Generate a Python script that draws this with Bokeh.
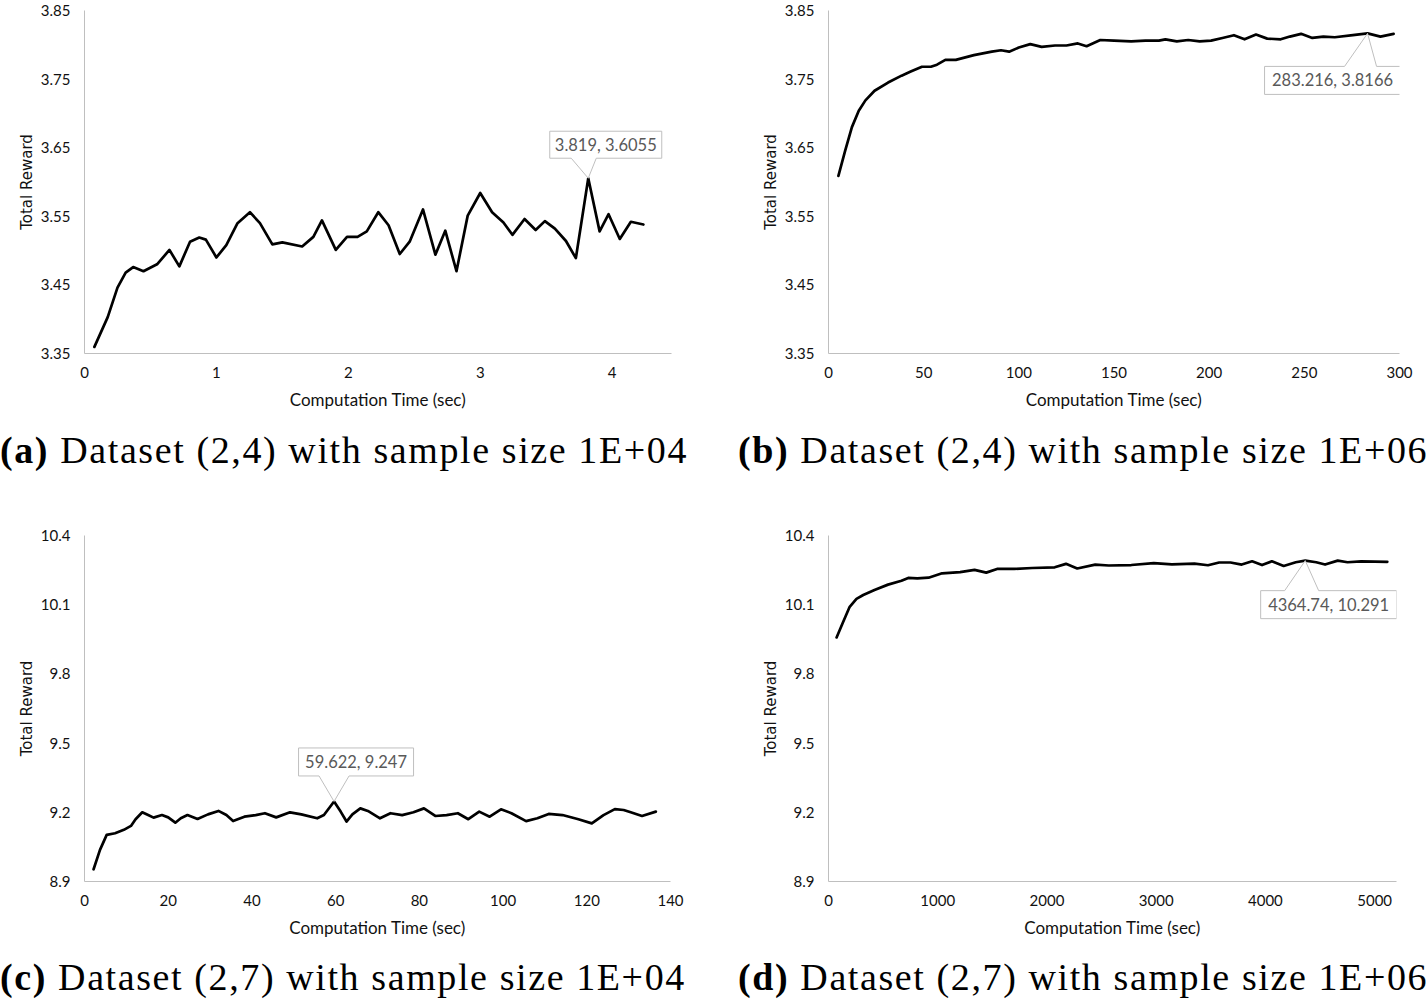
from bokeh.plotting import figure
from bokeh.layouts import column, row
from bokeh.models import FixedTicker, Div, Range1d
from bokeh.core.properties import value
from bokeh.embed import file_html
from bokeh.resources import INLINE

# ---------------- data ----------------
# (a) Dataset (2,4), sample size 1E+04
a_time = [0.075, 0.176, 0.25, 0.312, 0.369, 0.447, 0.55, 0.644, 0.719, 0.80, 0.87, 0.92, 1.0,
          1.075, 1.16, 1.254, 1.33, 1.424, 1.5, 1.65, 1.735, 1.80, 1.905, 1.99, 2.07, 2.14,
          2.227, 2.305, 2.39, 2.465, 2.566, 2.66, 2.735, 2.82, 2.905, 3.0, 3.09, 3.176,
          3.244, 3.336, 3.42, 3.49, 3.566, 3.65, 3.725, 3.819, 3.905, 3.973, 4.058, 4.142, 4.237]
a_reward = [3.3596, 3.403, 3.446, 3.468, 3.476, 3.470, 3.480, 3.501, 3.477, 3.513, 3.519, 3.516, 3.490,
            3.508, 3.540, 3.556, 3.540, 3.509, 3.512, 3.506, 3.520, 3.544, 3.501, 3.520, 3.520, 3.528,
            3.556, 3.537, 3.495, 3.513, 3.560, 3.494, 3.529, 3.470, 3.551, 3.584, 3.556, 3.541,
            3.523, 3.546, 3.530, 3.543, 3.532, 3.514, 3.489, 3.6055, 3.528, 3.553, 3.517, 3.542, 3.538]

# (b) Dataset (2,4), sample size 1E+06
b_time = [5.2, 8.8, 12.3, 15.9, 19.4, 24.2, 31.3, 38.4, 43.2, 49.1, 53.8, 57.0, 61.4, 66.9, 76.4,
          85.8, 90.6, 94.9, 100.0, 106.0, 112.0, 119.0, 125.0, 131.0, 135.6, 142.8, 150.0, 159.0,
          166.5, 173.6, 177.0, 183.0, 189.0, 195.0, 201.0, 207.0, 213.0, 218.6, 224.6, 230.5,
          237.6, 242.4, 248.3, 254.2, 260.0, 266.0, 275.5, 283.216, 290.0, 296.9]
b_reward = [3.609, 3.646, 3.680, 3.704, 3.719, 3.733, 3.745, 3.755, 3.761, 3.768, 3.768, 3.771, 3.778,
            3.778, 3.785, 3.790, 3.792, 3.790, 3.796, 3.801, 3.797, 3.799, 3.799, 3.802, 3.798, 3.807,
            3.806, 3.805, 3.806, 3.806, 3.808, 3.805, 3.807, 3.805, 3.806, 3.810, 3.814, 3.808, 3.815,
            3.809, 3.808, 3.812, 3.816, 3.810, 3.812, 3.811, 3.814, 3.8166, 3.812, 3.816]

# (c) Dataset (2,7), sample size 1E+04
c_time = [2.17, 3.7, 5.3, 7.3, 9.4, 11.1, 12.2, 13.8, 15.2, 16.5, 18.5, 20.0, 21.7, 23.0, 24.6, 27.0,
          29.5, 32.0, 33.9, 35.5, 38.2, 40.9, 43.1, 45.8, 49.1, 51.8, 55.6, 57.2, 59.622, 61.2, 62.6,
          64.0, 65.9, 67.7, 70.6, 73.1, 75.9, 78.6, 81.1, 83.8, 86.5, 89.2, 91.7, 94.3, 96.8, 99.5,
          102.0, 105.5, 108.2, 110.9, 114.2, 118.0, 121.2, 124.0, 126.7, 128.8, 130.5, 133.2, 136.5]
c_reward = [8.953, 9.037, 9.102, 9.109, 9.124, 9.141, 9.170, 9.200, 9.188, 9.177, 9.188, 9.178, 9.155,
            9.174, 9.188, 9.171, 9.191, 9.206, 9.188, 9.162, 9.181, 9.188, 9.196, 9.178, 9.200, 9.191,
            9.174, 9.188, 9.247, 9.203, 9.160, 9.191, 9.217, 9.206, 9.174, 9.196, 9.188, 9.200, 9.217,
            9.184, 9.188, 9.196, 9.170, 9.203, 9.181, 9.213, 9.196, 9.162, 9.174, 9.193, 9.188, 9.170,
            9.152, 9.188, 9.214, 9.210, 9.200, 9.184, 9.203]

# (d) Dataset (2,7), sample size 1E+06
d_time = [74, 132, 194, 256, 318, 421, 545, 668, 730, 813, 916, 1040, 1205, 1337, 1444, 1543, 1700,
          1865, 2071, 2174, 2277, 2442, 2566, 2772, 2978, 3144, 3350, 3474, 3577, 3680, 3783, 3878,
          3969, 4059, 4167, 4278, 4364.74, 4465, 4546, 4662, 4752, 4876, 5000, 5116]
d_reward = [9.958, 10.023, 10.091, 10.125, 10.142, 10.164, 10.187, 10.204, 10.216, 10.214, 10.217,
            10.236, 10.241, 10.251, 10.239, 10.255, 10.255, 10.259, 10.262, 10.277, 10.257, 10.274,
            10.270, 10.272, 10.280, 10.275, 10.278, 10.271, 10.283, 10.283, 10.274, 10.288, 10.272,
            10.288, 10.268, 10.284, 10.291, 10.284, 10.274, 10.291, 10.284, 10.288, 10.287, 10.286]

# callout points and texts
a_callout = (3.819, 3.6055, "3.819, 3.6055")
b_callout = (283.216, 3.8166, "283.216, 3.8166")
c_callout = (59.622, 9.247, "59.622, 9.247")
d_callout = (4364.74, 10.291, "4364.74, 10.291")

# ticks
a_xticks = [0, 1, 2, 3, 4]
b_xticks = [0, 50, 100, 150, 200, 250, 300]
c_xticks = [0, 20, 40, 60, 80, 100, 120, 140]
d_xticks = [0, 1000, 2000, 3000, 4000, 5000]
ab_yticks = [3.35, 3.45, 3.55, 3.65, 3.75, 3.85]
ab_ylabels = ["3.35", "3.45", "3.55", "3.65", "3.75", "3.85"]
cd_yticks = [8.9, 9.2, 9.5, 9.8, 10.1, 10.4]
cd_ylabels = ["8.9", "9.2", "9.5", "9.8", "10.1", "10.4"]

captions = [
    ("(a)", "Dataset (2,4) with sample size 1E+04"),
    ("(b)", "Dataset (2,4) with sample size 1E+06"),
    ("(c)", "Dataset (2,7) with sample size 1E+04"),
    ("(d)", "Dataset (2,7) with sample size 1E+06"),
]

X_TITLE = "Computation Time (sec)"
Y_TITLE = "Total Reward"
GRAY = "#BFBFBF"


def panel(xs, ys, xr, yr, xticks, yticks, ylabels, width, height, bl, br, bt, bb, callout, box, ptr):
    p = figure(width=width, height=height, output_backend="svg", toolbar_location=None,
               x_range=Range1d(*xr), y_range=Range1d(*yr),
               min_border_left=bl, min_border_right=br, min_border_top=bt, min_border_bottom=bb)
    p.outline_line_color = None
    p.xgrid.visible = False
    p.ygrid.visible = False
    p.background_fill_color = "white"
    p.border_fill_color = "white"

    p.xaxis.ticker = FixedTicker(ticks=xticks)
    p.yaxis.ticker = FixedTicker(ticks=yticks)
    p.xaxis.major_label_overrides = {t: str(t) for t in xticks}
    p.yaxis.major_label_overrides = dict(zip(yticks, ylabels))
    for ax in (p.xaxis, p.yaxis):
        ax.axis_line_color = GRAY
        ax.axis_line_width = 1
        ax.major_tick_line_color = None
        ax.minor_tick_line_color = None
        ax.major_tick_out = 0
        ax.major_tick_in = 0
        ax.minor_tick_out = 0
        ax.minor_tick_in = 0
        ax.major_label_text_font = "Lato"
        ax.major_label_text_font_size = "15px"
        ax.major_label_text_color = "#111111"
        ax.axis_label_text_font_style = "normal"
        ax.axis_label_text_color = "#111111"
    p.xaxis.major_label_standoff = 13
    p.yaxis.major_label_standoff = 14
    p.xaxis.axis_label = X_TITLE
    p.xaxis.axis_label_text_font = "Lato"
    p.xaxis.axis_label_text_font_size = "17px"
    p.xaxis.axis_label_standoff = 8
    p.yaxis.axis_label = Y_TITLE
    p.yaxis.axis_label_text_font = "DejaVu Sans"
    p.yaxis.axis_label_text_font_size = "15px"
    p.yaxis.axis_label_standoff = 2

    p.line(xs, ys, line_color="black", line_width=2.7, line_join="round", line_cap="round")

    # callout (pixel offsets converted through the plot's own scale)
    fw = width - bl - br
    fh = height - bt - bb
    sx = fw / (xr[1] - xr[0])
    sy = fh / (yr[1] - yr[0])
    px, py, label = callout
    cx, cy, bw, bh = box              # box center offset (px, down positive), box size
    p1, p2, pdy = ptr                 # pointer base x offsets and y offset of box edge

    def X(dx):
        return px + dx / sx

    def Y(dy):
        return py - dy / sy

    l, r, t, b = cx - bw / 2, cx + bw / 2, cy - bh / 2, cy + bh / 2
    if pdy < 0:   # box above the point: pointer on bottom edge
        path = [(l, t), (r, t), (r, b), (p2, b), (0, 0), (p1, b), (l, b), (l, t)]
    else:         # box below the point: pointer on top edge
        path = [(l, t), (p1, t), (0, 0), (p2, t), (r, t), (r, b), (l, b), (l, t)]
    p.patch([X(u) for u, v in path], [Y(v) for u, v in path],
            fill_color="white", line_color=GRAY, line_width=1)
    p.text(x=[X(cx)], y=[Y(cy)], text=[label], text_align="center", text_baseline="middle",
           text_font=value("Lato"), text_font_size="16.5px", text_color="#595959")
    return p


pa = panel(a_time, a_reward, (0, 4.45), (3.35, 3.85), a_xticks, ab_yticks, ab_ylabels,
           720, 415, 84, 49, 10, 62, a_callout, (17.5, -33.5, 112, 27), (-17, 8, -20))
pb = panel(b_time, b_reward, (0, 300), (3.35, 3.85), b_xticks, ab_yticks, ab_ylabels,
           707, 415, 108, 28, 10, 62, b_callout, (-35, 47, 136, 28), (-23, 9, 33))
pc = panel(c_time, c_reward, (0, 140), (8.9, 10.4), c_xticks, cd_yticks, cd_ylabels,
           720, 420, 84, 50, 12, 62, c_callout, (22, -39.5, 115, 28), (-15, 15, -25.5))
pd_ = panel(d_time, d_reward, (0, 5200), (8.9, 10.4), d_xticks, cd_yticks, cd_ylabels,
            707, 420, 108, 31, 12, 62, d_callout, (23.4, 44, 136, 28), (-20.6, 13.4, 30))


def caption(tag, text, width, height, pad_left, pad_top):
    html = ('<div style="font-family: \'Liberation Serif\'; font-size: 38px; line-height: 40px; '
            'letter-spacing: 1.6px; white-space: nowrap; color: #000; padding-left: %dpx; '
            'padding-top: %dpx; margin: 0;"><b>%s</b> %s</div>'
            % (pad_left, pad_top, tag, text))
    return Div(text=html, width=width, height=height, margin=(0, 0, 0, 0))


ca = caption(*captions[0], 720, 108, 0, 15)
cb = caption(*captions[1], 707, 108, 18, 15)
cc = caption(*captions[2], 720, 56, 0, 14)
cd = caption(*captions[3], 707, 56, 18, 14)

layout = column(row(pa, pb), row(ca, cb), row(pc, pd_), row(cc, cd))

open("out.html", "w").write(file_html(layout, INLINE))
